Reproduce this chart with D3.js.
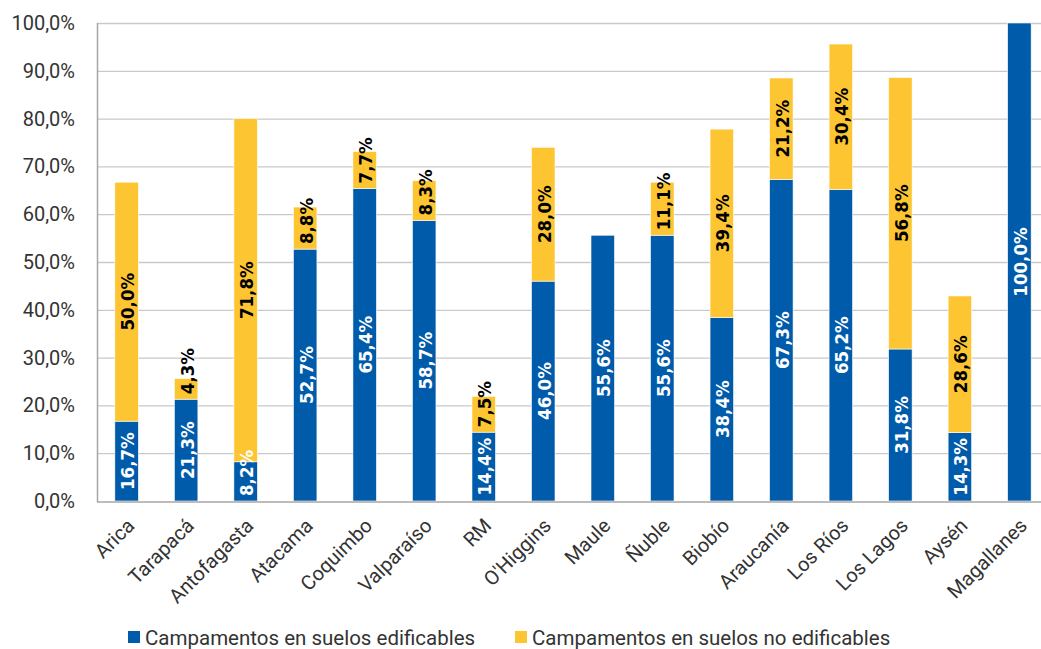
<!DOCTYPE html>
<html><head><meta charset="utf-8">
<script src="https://cdn.jsdelivr.net/npm/d3@7"></script>
<style>
body{margin:0;background:#fff;}
svg{display:block;}
</style></head>
<body><svg id="c" width="1041" height="649"></svg>
<script>
const categories = ["Arica","Tarapacá","Antofagasta","Atacama","Coquimbo","Valparaíso","RM","O'Higgins","Maule","Ñuble","Biobío","Araucanía","Los Ríos","Los Lagos","Aysén","Magallanes"];
const edificables = [16.7,21.3,8.2,52.7,65.4,58.7,14.4,46.0,55.6,55.6,38.4,67.3,65.2,31.8,14.3,100.0];
const noEdificables = [50.0,4.3,71.8,8.8,7.7,8.3,7.5,28.0,0,11.1,39.4,21.2,30.4,56.8,28.6,0];
const yTicks = [0,10,20,30,40,50,60,70,80,90,100];
const seriesNames = ["Campamentos en suelos edificables","Campamentos en suelos no edificables"];
const colors = ["#005BAA","#FDC532"];

const svg = d3.select("#c");
const m = {left:97, top:23, bottom:501, right:1049};
const x = d3.scaleBand().domain(categories).range([m.left, m.right]).paddingInner(0.605).paddingOuter(0.3);
const y = d3.scaleLinear().domain([0,100]).range([m.bottom, m.top]);
const fmt = v => v.toFixed(1).replace(".", ",") + "%";
const FONT = "Roboto, 'Noto Sans', sans-serif";

// gridlines
svg.append("g").selectAll("line").data(yTicks.filter(d=>d>0)).join("line")
  .attr("x1", m.left).attr("x2", 1041)
  .attr("y1", d=>y(d)+0.5).attr("y2", d=>y(d)+0.5)
  .attr("stroke", "#c9c9c9").attr("stroke-width", 1.3);

// y axis
const ya = svg.append("g").attr("transform", `translate(${m.left},0)`)
  .call(d3.axisLeft(y).tickValues(yTicks).tickSize(0).tickPadding(22).tickFormat(fmt));
ya.select(".domain").remove();
ya.selectAll("text").attr("font-family",FONT).attr("font-size", 20).attr("fill","#333");

// bars
const data = categories.map((c,i)=>({c, a:edificables[i], b:noEdificables[i]}));
const g = svg.append("g");
data.forEach(d=>{
  const bx = x(d.c), bw = x.bandwidth();
  g.append("rect").attr("x",bx).attr("width",bw).attr("y",y(d.a)).attr("height",y(0)-y(d.a))
    .attr("fill",colors[0]).attr("stroke","#fff").attr("stroke-width",0.6);
  if (d.b>0) g.append("rect").attr("x",bx).attr("width",bw).attr("y",y(d.a+d.b)).attr("height",y(d.a)-y(d.a+d.b))
    .attr("fill",colors[1]).attr("stroke","#fff").attr("stroke-width",0.6);
});

// axes lines
svg.append("line").attr("x1",m.left+0.5).attr("x2",m.left+0.5).attr("y1",m.top).attr("y2",m.bottom+1)
  .attr("stroke","#a6a6a6").attr("stroke-width",1.5);
svg.append("line").attr("x1",m.left).attr("x2",1041).attr("y1",m.bottom+1).attr("y2",m.bottom+1)
  .attr("stroke","#a6a6a6").attr("stroke-width",1.5);

// labels
function addLabel(cx, y0, y1, val, col){
  const t = g.append("text").text(fmt(val))
    .attr("font-family","'Liberation Sans Narrow','DejaVu Sans Condensed',sans-serif")
    .attr("font-weight","bold").attr("font-size",18.5).attr("fill",col)
    .attr("text-anchor","middle").attr("dominant-baseline","central");
  const len = t.node().getComputedTextLength();
  const segH = y0 - y1;
  let cy = (y0+y1)/2;
  if (len > segH - 4) cy = y0 - 5 - len/2;
  t.attr("transform",`translate(${cx+1},${cy}) rotate(-90)`);
}
data.forEach(d=>{
  const cx = x(d.c)+x.bandwidth()/2;
  addLabel(cx, y(0), y(d.a), d.a, "#fff");
  if (d.b>0) addLabel(cx, y(d.a), y(d.a+d.b), d.b, "#000");
});

// x labels
const xa = svg.append("g").attr("transform",`translate(0,${m.bottom})`)
  .call(d3.axisBottom(x).tickSize(0).tickPadding(0));
xa.select(".domain").remove();
xa.selectAll("text").attr("font-family",FONT).attr("font-size",20).attr("fill","#333")
  .attr("text-anchor","end").attr("dy",0)
  .attr("transform","translate(9,26) rotate(-45)");

// legend
const leg = svg.append("g");
const lx = [128, 515];
seriesNames.forEach((s,i)=>{
  leg.append("rect").attr("x",lx[i]).attr("y",631).attr("width",12).attr("height",12).attr("fill",colors[i]);
  leg.append("text").attr("x",lx[i]+17).attr("y",645).text(s)
    .attr("font-family",FONT).attr("font-size",20.5).attr("fill","#333");
});
</script></body></html>
